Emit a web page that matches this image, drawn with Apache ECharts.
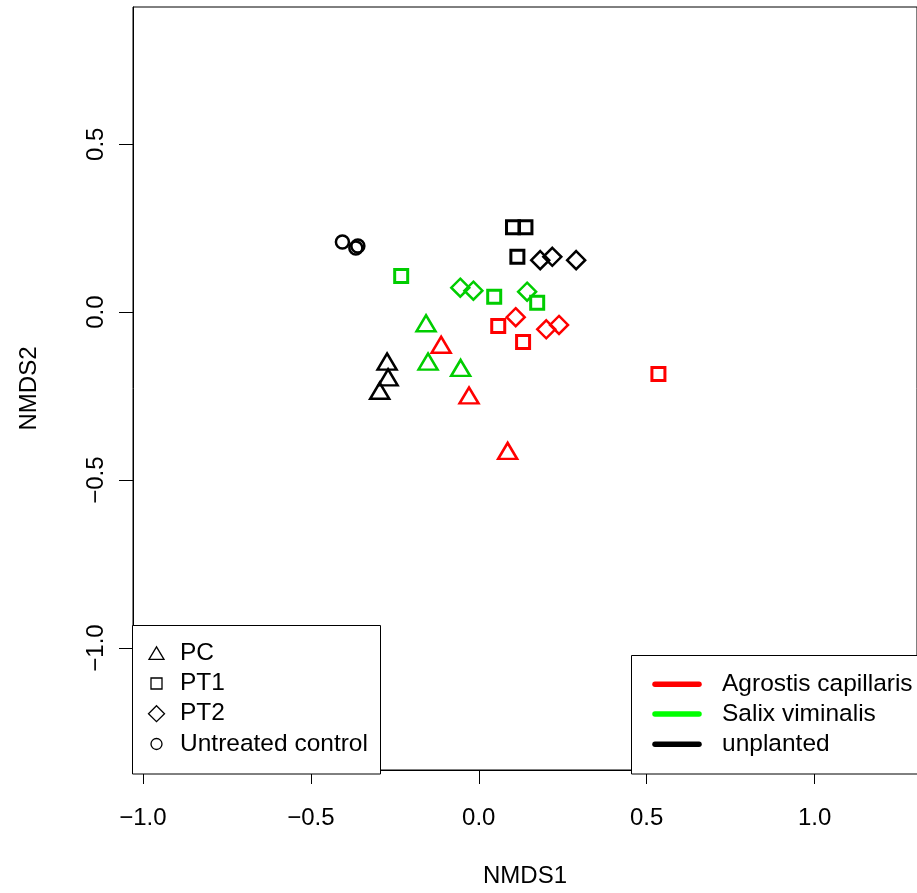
<!DOCTYPE html>
<html><head><meta charset="utf-8">
<script src="https://cdn.jsdelivr.net/npm/echarts@6/dist/echarts.min.js"></script>
<style>html,body{margin:0;padding:0;background:#fff}#c{width:917px;height:893px}</style>
</head><body><div id="c"></div>
<script>
// ---- data ----
const xTicks = [-1.0, -0.5, 0.0, 0.5, 1.0];
const yTicks = [-1.0, -0.5, 0.0, 0.5];
const treatments = ['PC', 'PT1', 'PT2', 'Untreated control'];
const plants = ['Agrostis capillaris', 'Salix viminalis', 'unplanted'];

const agrostisPC  = [[-0.112, -0.105], [-0.029, -0.256], [0.086, -0.421]];
const agrostisPT1 = [[0.058, -0.041], [0.132, -0.089], [0.535, -0.184]];
const agrostisPT2 = [[0.110, -0.015], [0.201, -0.051], [0.239, -0.038]];

const salixPC  = [[-0.157, -0.041], [-0.151, -0.155], [-0.054, -0.174]];
const salixPT1 = [[-0.231, 0.108], [0.046, 0.046], [0.174, 0.028]];
const salixPT2 = [[-0.055, 0.073], [-0.016, 0.064], [0.144, 0.061]];

const unplantedPC  = [[-0.273, -0.155], [-0.270, -0.202], [-0.295, -0.242]];
const unplantedPT1 = [[0.102, 0.253], [0.139, 0.253], [0.115, 0.165]];
const unplantedPT2 = [[0.183, 0.155], [0.219, 0.165], [0.290, 0.155]];
const untreatedControl = [[-0.406, 0.209], [-0.366, 0.191], [-0.360, 0.197]];

// ---- styling ----
const pointColors = {'Agrostis capillaris': '#FF0000', 'Salix viminalis': '#00CD00', 'unplanted': '#000000'};
const lineColors = ['#FF0000', '#00FF00', '#000000'];
const FONT = '"Liberation Sans", Arial, Helvetica, sans-serif';

const symbolStyle = {
  'PC':  {symbol: 'triangle', symbolSize: [19, 16], symbolOffset: [0, -2.7], bw: 2.5},
  'PT1': {symbol: 'rect', symbolSize: 13, symbolOffset: [0, 0], bw: 3},
  'PT2': {symbol: 'diamond', symbolSize: 18, symbolOffset: [0, 0], bw: 2.5},
  'Untreated control': {symbol: 'circle', symbolSize: 13, symbolOffset: [0, 0], bw: 2.5}
};

const seriesDefs = [
  ['Agrostis capillaris', 'PC', agrostisPC],
  ['Agrostis capillaris', 'PT1', agrostisPT1],
  ['Agrostis capillaris', 'PT2', agrostisPT2],
  ['Salix viminalis', 'PC', salixPC],
  ['Salix viminalis', 'PT1', salixPT1],
  ['Salix viminalis', 'PT2', salixPT2],
  ['unplanted', 'PC', unplantedPC],
  ['unplanted', 'PT1', unplantedPT1],
  ['unplanted', 'PT2', unplantedPT2],
  ['unplanted', 'Untreated control', untreatedControl]
];

const series = seriesDefs.map(([plant, trt, data]) => {
  const s = symbolStyle[trt];
  return {
    type: 'scatter',
    name: plant + ' ' + trt,
    data: data,
    symbol: s.symbol,
    symbolSize: s.symbolSize,
    symbolOffset: s.symbolOffset,
    itemStyle: {color: 'rgba(0,0,0,0)', borderColor: pointColors[plant], borderWidth: s.bw, opacity: 1},
    emphasis: {disabled: true},
    animation: false
  };
});

// ---- legends (graphic) ----
const graphic = [];
graphic.push({type: 'rect', z: 100, shape: {x: 132.5, y: 625.5, width: 248, height: 148.5},
  style: {fill: '#fff', stroke: '#000', lineWidth: 1}});
const rowsL = [653.3, 683.5, 713.7, 744];
const sx = 156.5;
const legendShapes = [
  (y) => ({type: 'polygon', shape: {points: [[sx, y - 6.5], [sx - 7.5, y + 6], [sx + 7.5, y + 6]]}}),
  (y) => ({type: 'rect', shape: {x: sx - 5.5, y: y - 5.5, width: 11, height: 11}}),
  (y) => ({type: 'polygon', shape: {points: [[sx, y - 8], [sx + 8, y], [sx, y + 8], [sx - 8, y]]}}),
  (y) => ({type: 'circle', shape: {cx: sx, cy: y, r: 5.5}})
];
treatments.forEach((t, i) => {
  const g = legendShapes[i](rowsL[i]);
  g.z = 101;
  g.style = {fill: 'none', stroke: '#000', lineWidth: 1.3};
  graphic.push(g);
  graphic.push({type: 'text', z: 101, x: 180, y: rowsL[i],
    style: {text: t, font: '24.5px ' + FONT, fill: '#000', verticalAlign: 'middle', align: 'left'}});
});
graphic.push({type: 'rect', z: 100, shape: {x: 631.5, y: 655.5, width: 300, height: 118.5},
  style: {fill: '#fff', stroke: '#000', lineWidth: 1}});
const rowsR = [684.3, 714, 744.3];
plants.forEach((p, i) => {
  graphic.push({type: 'line', z: 101, shape: {x1: 655, y1: rowsR[i], x2: 699, y2: rowsR[i]},
    style: {stroke: lineColors[i], lineWidth: 5.5, lineCap: 'round'}});
  graphic.push({type: 'text', z: 101, x: 722, y: rowsR[i],
    style: {text: p, font: '24.5px ' + FONT, fill: '#000', verticalAlign: 'middle', align: 'left'}});
});

const fmt = v => Number(v).toFixed(1).replace('-', '\u2212');

const option = {
  backgroundColor: '#fff',
  animation: false,
  grid: {left: 133, top: 7, width: 788, height: 767, show: true, borderColor: '#000', borderWidth: 1, backgroundColor: 'transparent'},
  xAxis: {
    type: 'value', min: -1.0296, max: 1.305,
    name: 'NMDS1', nameLocation: 'middle', nameGap: 94,
    nameTextStyle: {fontSize: 24, fontFamily: FONT, color: '#000'},
    axisLine: {show: true, onZero: false, lineStyle: {color: '#000', width: 1}},
    axisTick: {show: true, length: 14, customValues: xTicks, lineStyle: {color: '#000', width: 1}},
    axisLabel: {customValues: xTicks, formatter: fmt, margin: 36, fontSize: 24, fontFamily: FONT, color: '#000'},
    splitLine: {show: false}
  },
  yAxis: {
    type: 'value', min: -1.3633, max: 0.9088,
    name: 'NMDS2', nameLocation: 'middle', nameGap: 92, nameRotate: 90,
    nameTextStyle: {fontSize: 24, fontFamily: FONT, color: '#000'},
    axisLine: {show: true, onZero: false, lineStyle: {color: '#000', width: 1}},
    axisTick: {show: true, length: 14, customValues: yTicks, lineStyle: {color: '#000', width: 1}},
    axisLabel: {customValues: yTicks, formatter: fmt, rotate: 90, margin: 25, fontSize: 24, fontFamily: FONT, color: '#000'},
    splitLine: {show: false}
  },
  series: series,
  graphic: graphic
};

const chart = echarts.init(document.getElementById('c'), null, {renderer: 'canvas'});
chart.setOption(option);
</script>
</body></html>
